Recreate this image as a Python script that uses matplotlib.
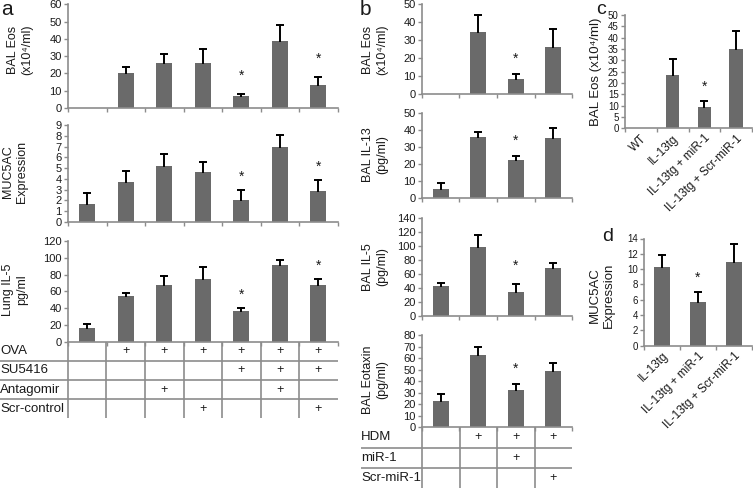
import numpy as np
import matplotlib.pyplot as plt

plt.rcParams['font.family'] = ['Liberation Sans', 'DejaVu Sans']

#---------- DATA --------------
# panel a (OVA model)
a_eos = [0, 20, 26, 26, 7, 38.5, 13.5]
a_eos_err = [0, 4, 5, 8, 1.2, 9.5, 4.5]
a_muc = [1.7, 3.7, 5.2, 4.6, 2.0, 7.0, 2.9]
a_muc_err = [1.0, 1.0, 1.1, 1.0, 1.0, 1.1, 1.0]
a_il5 = [16, 54, 67, 75, 36, 91, 67]
a_il5_err = [5, 4, 11, 14, 4, 6, 8]
a_stars = [4, 6]
a_rows = ['OVA', 'SU5416', 'Antagomir', 'Scr-control']
a_marks = [[0, 1, 1, 1, 1, 1, 1],
           [0, 0, 0, 0, 1, 1, 1],
           [0, 0, 1, 0, 0, 1, 0],
           [0, 0, 0, 1, 0, 0, 1]]

# panel b (HDM model)
b_eos = [0, 34.5, 8.5, 26]
b_eos_err = [0, 9.5, 2.5, 10]
b_il13 = [5.5, 36, 22.5, 35]
b_il13_err = [3.5, 3, 2, 6]
b_il5 = [43, 99, 35, 69]
b_il5_err = [5, 17, 11, 7]
b_eotaxin = [22.5, 63, 32, 48.5]
b_eotaxin_err = [6, 7, 5.5, 7]
b_stars = [2]
b_rows = ['HDM', 'miR-1', 'Scr-miR-1']
b_marks = [[0, 1, 1, 1],
           [0, 0, 1, 0],
           [0, 0, 0, 1]]

# panel c / d (IL-13tg)
c_labels = ['WT', 'IL-13tg', 'IL-13tg + miR-1', 'IL-13tg + Scr-miR-1']
c_eos = [0, 23.5, 9.5, 35]
c_eos_err = [0, 7, 2.5, 8]
c_stars = [2]
d_labels = ['IL-13tg', 'IL-13tg + miR-1', 'IL-13tg + Scr-miR-1']
d_muc = [10.3, 5.7, 10.9]
d_muc_err = [1.5, 1.3, 2.4]
d_stars = [1]

#---------- FIGURE --------------
W, H = 753, 488
fig = plt.figure(figsize=(W / 100, H / 100), dpi=100)
BAR = '#6a6a6a'
AXC = '#8c8c8c'
TXT = '#1a1a1a'


def px_axes(x0, y0, x1, y1):#axes from pixel box (top-left origin)
    return fig.add_axes([x0 / W, 1 - y1 / H, (x1 - x0) / W, (y1 - y0) / H])


def bar_panel(box, vals, errs, stars, ymax, step, star_gap, tick_size=8):
    ax = px_axes(*box)
    n = len(vals)
    x = np.arange(n)
    ax.bar(x, vals, width=0.42, color=BAR, zorder=2)
    for xi, v, e in zip(x, vals, errs):
        if e > 0:#only the upper half of the error bar
            ax.plot([xi, xi], [v, v + e], color='black', lw=1.4, zorder=3, clip_on=False)
            ax.plot([xi], [v + e], marker='_', ms=6, mew=1.4, color='black', zorder=3, clip_on=False)
    for i in stars:
        ax.annotate('*', (i, vals[i] + errs[i]), xytext=(0, star_gap), textcoords='offset pixels',
                    ha='center', va='baseline', fontsize=10, color=TXT)
    ax.set_xlim(-0.5, n - 0.5)
    ax.set_ylim(0, ymax)
    ax.set_yticks(np.arange(0, ymax + step / 2, step))
    ax.set_xticks(np.arange(n + 1) - 0.5)
    ax.set_xticklabels([])
    for s in ['top', 'right']:
        ax.spines[s].set_visible(False)
    for s in ['left', 'bottom']:
        ax.spines[s].set_color(AXC)
        ax.spines[s].set_linewidth(1.2)
    ax.tick_params(colors=AXC, labelcolor=TXT, labelsize=tick_size, length=3, width=1, pad=1.5)
    ax.patch.set_alpha(0)
    return ax


def table(x_label, axis_left, axis_right, y0, y1, rows, marks):
    ax = px_axes(x_label, y0, axis_right, y1)
    ncat = len(marks[0])
    cw = (axis_right - axis_left) / ncat
    left = -0.5 - (axis_left - x_label) / cw
    ax.set_xlim(left, ncat - 0.5)
    ax.set_ylim(len(rows), 0)
    ax.axis('off')
    for k in range(1, len(rows)):
        ax.axhline(k, color=AXC, lw=1.2)
    for c in range(ncat):
        ax.plot([c - 0.5, c - 0.5], [0, len(rows)], color=AXC, lw=1.2)
    for r, name in enumerate(rows):
        ax.text(left, r + 0.5, name, ha='left', va='center', fontsize=9.5, color=TXT)
        for c in range(ncat):
            if marks[r][c]:
                ax.text(c, r + 0.5, '+', ha='center', va='center', fontsize=9, color=TXT)
    return ax


def ylab(x, y, s, size=9):
    fig.text(x / W, 1 - y / H, s, rotation=90, ha='center', va='center',
             fontsize=size, color=TXT, multialignment='center')


#------ PANEL A -------
bar_panel((68, 4.3, 337.5, 108), a_eos, a_eos_err, a_stars, 60, 10, 14)
bar_panel((68, 125, 337.5, 222), a_muc, a_muc_err, a_stars, 9, 1, 9)
bar_panel((68, 241, 337.5, 341.7), a_il5, a_il5_err, a_stars, 120, 20, 9)
table(0, 68, 337.5, 341.7, 418.3, a_rows, a_marks)
ylab(20, 50, 'BAL Eos\n(x10⁴/ml)')
ylab(15, 172, 'MUC5AC\nExpression')
ylab(15, 290, 'Lung IL-5\npg/ml')
fig.text(1 / W, 1 - 0 / H, 'a', fontsize=15, ha='left', va='top', color=TXT)

#------ PANEL B -------
bar_panel((422, 4.3, 572, 94.3), b_eos, b_eos_err, b_stars, 50, 10, 12)
bar_panel((422, 112.7, 572, 198.3), b_il13, b_il13_err, b_stars, 50, 10, 12)
bar_panel((422, 218.3, 572, 316), b_il5, b_il5_err, b_stars, 140, 20, 14)
bar_panel((422, 335, 572, 427.3), b_eotaxin, b_eotaxin_err, b_stars, 80, 10, 11)
table(361, 422, 572, 427.3, 488, b_rows, b_marks)
ylab(375, 50, 'BAL Eos\n(x10⁴/ml)')
ylab(375, 155, 'BAL IL-13\n(pg/ml)')
ylab(375, 267, 'BAL IL-5\n(pg/ml)')
ylab(375, 380, 'BAL Eotaxin\n(pg/ml)')
fig.text(360 / W, 1 - 0 / H, 'b', fontsize=15, ha='left', va='top', color=TXT)

#------ PANEL C -------
axc = bar_panel((625, 15, 752, 128.3), c_eos, c_eos_err, c_stars, 50, 5, 10, tick_size=7)
axc.set_xticks(np.arange(len(c_labels)), minor=True)
axc.set_xticklabels(c_labels, minor=True, rotation=45, ha='right', va='top',
                    rotation_mode='anchor', fontsize=8.5, color=TXT)
axc.tick_params(axis='x', which='minor', length=0, pad=3)
ylab(596, 72, 'BAL Eos (x10⁴/ml)', size=9.5)
fig.text(596 / W, 1 - 1 / H, 'c', fontsize=14, ha='left', va='top', color=TXT)

#------ PANEL D -------
axd = bar_panel((644, 238.5, 752, 345.7), d_muc, d_muc_err, d_stars, 14, 2, 10, tick_size=7)
axd.set_xticks(np.arange(len(d_labels)), minor=True)
axd.set_xticklabels(d_labels, minor=True, rotation=45, ha='right', va='top',
                    rotation_mode='anchor', fontsize=8.5, color=TXT)
axd.tick_params(axis='x', which='minor', length=0, pad=3)
ylab(602, 295, 'MUC5AC\nExpression', size=9.5)
fig.text(602 / W, 1 - 228 / H, 'd', fontsize=14, ha='left', va='top', color=TXT)

fig.savefig('out.png', dpi=100)
